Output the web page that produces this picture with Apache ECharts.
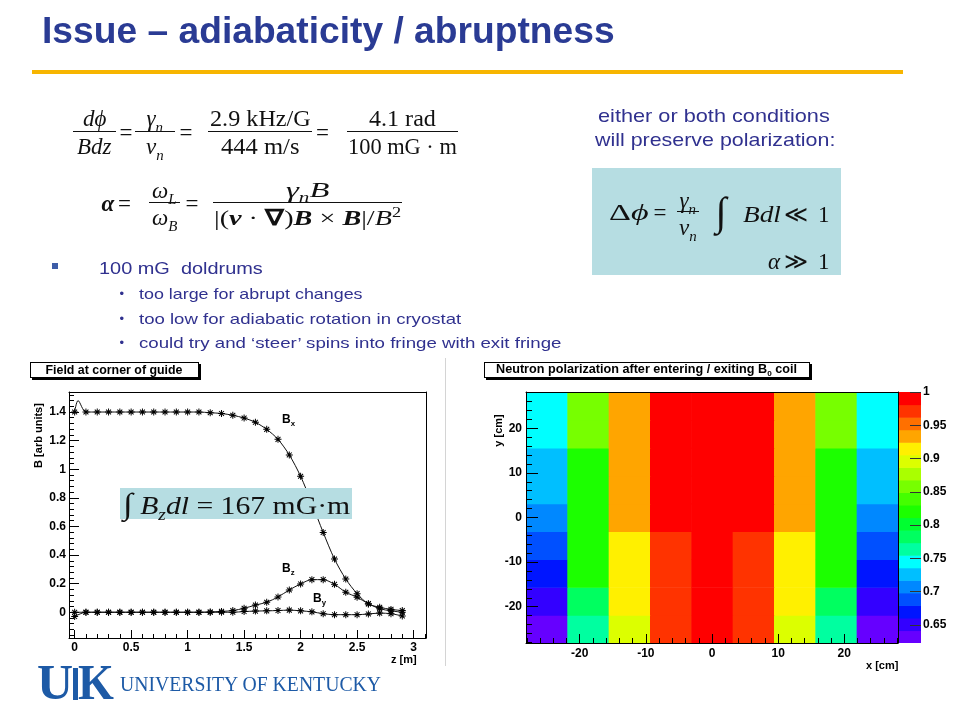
<!DOCTYPE html>
<html><head><meta charset="utf-8">
<script src="https://cdn.jsdelivr.net/npm/echarts@6/dist/echarts.min.js"></script>
<style>
html,body{margin:0;padding:0;background:#fff;}
#chart{position:absolute;left:0;top:0;width:960px;height:720px;}
#ov{position:absolute;left:0;top:0;width:960px;height:720px;pointer-events:none;}
#ov div{position:absolute;white-space:nowrap;line-height:1;}
sub,sup{line-height:0;font-size:65%;}
</style></head><body>
<div id="chart"></div><div id="ov"></div>
<script>
// ---------------- data: field at corner of guide ----------------
const zPos = [0,0.1,0.2,0.3,0.4,0.5,0.6,0.7,0.8,0.9,1.0,1.1,1.2,1.3,1.4,1.5,1.6,1.7,1.8,1.9,2.0,2.1,2.2,2.3,2.4,2.5,2.6,2.7,2.8,2.9];
const bxVals = [1.40,1.40,1.40,1.40,1.40,1.40,1.40,1.40,1.40,1.40,1.40,1.40,1.395,1.39,1.377,1.358,1.328,1.279,1.209,1.10,0.951,0.76,0.558,0.372,0.232,0.13,0.058,0.035,0.02,0.012];
const bxBump = [0.03, 1.48];
const bzVals = [-0.03,0,0,0,0,0,0,0,0,0,0,0,0.002,0.006,0.012,0.028,0.05,0.07,0.107,0.156,0.198,0.228,0.228,0.195,0.14,0.105,0.06,0.025,0.01,0.0];
const byVals = [0,0,0,0,0,0,0,0,0,0,0,0,0,0,0,0.005,0.008,0.01,0.012,0.015,0.01,0.003,-0.01,-0.017,-0.017,-0.017,-0.012,-0.006,-0.01,-0.026];
const zTicks = [0,0.5,1,1.5,2,2.5,3];
const bTicks = [0,0.2,0.4,0.6,0.8,1,1.2,1.4];

// ---------------- data: neutron polarization map ----------------
const xEdges = [-28.125,-21.875,-15.625,-9.375,-3.125,3.125,9.375,15.625,21.875,28.125];
const yEdges = [-28.125,-21.875,-15.625,-9.375,-3.125,3.125,9.375,15.625,21.875,28.125];
// rows from bottom (y<0) to top
const polRows = [
  [0.632,0.765,0.895,0.97,0.99,0.97,0.895,0.765,0.632],
  [0.65, 0.785,0.915,0.97,0.99,0.97,0.915,0.785,0.65 ],
  [0.67, 0.82, 0.915,0.97,0.99,0.97,0.915,0.82, 0.67 ],
  [0.69, 0.82, 0.915,0.97,0.99,0.97,0.915,0.82, 0.69 ],
  [0.707,0.82, 0.935,0.99,0.99,0.99,0.935,0.82, 0.707],
  [0.727,0.82, 0.935,0.99,0.99,0.99,0.935,0.82, 0.727],
  [0.727,0.82, 0.935,0.99,0.99,0.99,0.935,0.82, 0.727],
  [0.745,0.858,0.935,0.99,0.99,0.99,0.935,0.858,0.745],
  [0.745,0.858,0.935,0.99,0.99,0.99,0.935,0.858,0.745]
];
const xcmTicks = [-20,-10,0,10,20];
const ycmTicks = [-20,-10,0,10,20];
const levelEdges = [0.623,0.64185,0.6607,0.67955,0.6984,0.71725,0.7361,0.75495,0.7738,0.79265,0.8115,0.83035,0.8492,0.86805,0.8869,0.90575,0.9246,0.94345,0.9623,0.98115,1.0];
const levelColors = ['#6600ff','#3300ff','#0015ff','#0050ff','#0088ff','#00bfff','#00ffff','#00ffa0','#00ff60','#00ff30','#1cff00','#44ff00','#77ff00','#aaff00','#dcff00','#fff000','#ffa500','#ff7000','#ff3300','#ff0000'];
const cbTicks = [0.65,0.7,0.75,0.8,0.85,0.9,0.95,1];

// minor tick helpers (axis decoration only)
function minors(a, b, step, majors){const r=[];for(let v=a; v<=b+1e-9; v+=step){const q=Math.round(v*1000)/1000; if(!majors.some(m=>Math.abs(m-q)<1e-6)) r.push(q);}return r;}
const zMinor = minors(0.1,3.1,0.1,zTicks);
const bMinor = minors(-0.16,1.52,0.04,bTicks);
const cmMinor = minors(-28,28,2,xcmTicks);

// ---------------- build series data ----------------
const bxData = zPos.map((z,i)=>[z,bxVals[i]]);
bxData.splice(1,0,{value:bxBump, symbol:'none'});
const bzData = zPos.map((z,i)=>[z,bzVals[i]]);
const byData = zPos.map((z,i)=>[z,byVals[i]]);
const heatData = [];
polRows.forEach((row,j)=>row.forEach((v,i)=>heatData.push([xEdges[i],xEdges[i+1],yEdges[j],yEdges[j+1],v])));
const cbData = levelColors.map((c,i)=>[0,1,levelEdges[i],levelEdges[i+1],(levelEdges[i]+levelEdges[i+1])/2]);
const pieces = levelColors.map((c,i)=> i===levelColors.length-1 ? {gte:levelEdges[i], lte:levelEdges[i+1], color:c} : {gte:levelEdges[i], lt:levelEdges[i+1], color:c});

const STAR = 'path://M0,4.3L10,4.3L10,5.7L0,5.7Z M4.3,0L5.7,0L5.7,10L4.3,10Z M1,2L2,1L9,8L8,9Z M8,1L9,2L2,9L1,8Z';
const LBL = {fontFamily:'Liberation Sans, Arial, sans-serif', fontWeight:'bold', fontSize:12, color:'#000'};
const BLK = {color:'#000', width:1};

function rectItem(params, api){
  const p0 = api.coord([api.value(0), api.value(3)]);
  const p1 = api.coord([api.value(1), api.value(2)]);
  return {type:'rect', shape:{x:p0[0], y:p0[1], width:p1[0]-p0[0]+0.6, height:p1[1]-p0[1]+0.6}, style:{fill:api.visual('color')}};
}
function frame(gi, type, pos, min, max){
  return {gridIndex:gi, type:'value', position:pos, min:min, max:max, z:10,
    axisLine:{show:true, onZero:false, lineStyle:BLK}, axisTick:{show:false}, axisLabel:{show:false}, splitLine:{show:false}};
}
function mainAx(gi, pos, min, max, ticks, len, margin){
  return {gridIndex:gi, type:'value', position:pos, min:min, max:max, z:10,
    axisLine:{show:true, onZero:false, lineStyle:BLK},
    axisTick:{show:true, inside:true, length:len, customValues:ticks, lineStyle:BLK},
    axisLabel:Object.assign({customValues:ticks, margin:margin, showMinLabel:true, showMaxLabel:true}, LBL),
    splitLine:{show:false}};
}
function minorAx(gi, pos, min, max, ticks, len){
  return {gridIndex:gi, type:'value', position:pos, min:min, max:max, z:10,
    axisLine:{show:false, onZero:false},
    axisTick:{show:true, inside:true, length:len, customValues:ticks, lineStyle:BLK},
    axisLabel:{show:false}, splitLine:{show:false}};
}
const G0 = {left:69, top:392, width:357, height:246, outerBoundsMode:'none'};
const G2 = {left:526, top:392, width:372, height:251, outerBoundsMode:'none'};
const G4 = {left:899, top:392, width:22, height:251, outerBoundsMode:'none'};

const chart = echarts.init(document.getElementById('chart'), null, {renderer:'canvas'});
chart.setOption({
  animation:false,
  backgroundColor:'#fff',
  grid:[G0, Object.assign({},G0), G2, Object.assign({},G2), G4],
  xAxis:[
    mainAx(0,'bottom',-0.05,3.11,zTicks,8,4),
    frame(0,'value','top',-0.05,3.11),
    minorAx(1,'bottom',-0.05,3.11,zMinor,4),
    mainAx(2,'bottom',-28.125,28.125,xcmTicks,9,5),
    frame(2,'value','top',-28.125,28.125),
    minorAx(3,'bottom',-28.125,28.125,cmMinor,5),
    {gridIndex:4, type:'value', min:0, max:1, show:false}
  ],
  yAxis:[
    mainAx(0,'left',-0.18,1.54,bTicks,10,3),
    frame(0,'value','right',-0.18,1.54),
    minorAx(1,'left',-0.18,1.54,bMinor,5),
    mainAx(2,'left',-28.125,28.125,ycmTicks,12,4),
    frame(2,'value','right',-28.125,28.125),
    minorAx(3,'left',-28.125,28.125,cmMinor,6),
    {gridIndex:4, type:'value', position:'right', min:0.623, max:1.0, z:10,
     axisLine:{show:false, onZero:false},
     axisTick:{show:true, inside:true, length:11, customValues:cbTicks, lineStyle:{color:'#333', width:1}},
     axisLabel:Object.assign({customValues:cbTicks, margin:2}, LBL), splitLine:{show:false}}
  ],
  visualMap:{type:'piecewise', show:false, dimension:4, seriesIndex:[3,4], pieces:pieces},
  series:[
    {type:'line', name:'Bx', xAxisIndex:0, yAxisIndex:0, data:bxData, smooth:0.3, symbol:STAR, symbolSize:7, showAllSymbol:true,
     itemStyle:{color:'#000'}, lineStyle:{color:'#111', width:1}, z:3},
    {type:'line', name:'Bz', xAxisIndex:0, yAxisIndex:0, data:bzData, smooth:0.3, symbol:STAR, symbolSize:7, showAllSymbol:true,
     itemStyle:{color:'#000'}, lineStyle:{color:'#111', width:1}, z:3},
    {type:'line', name:'By', xAxisIndex:0, yAxisIndex:0, data:byData, smooth:0.3, symbol:STAR, symbolSize:7, showAllSymbol:true,
     itemStyle:{color:'#000'}, lineStyle:{color:'#111', width:1}, z:3},
    {type:'custom', name:'polarization', xAxisIndex:3, yAxisIndex:3, data:heatData, encode:{x:[0,1], y:[2,3]}, renderItem:rectItem, clip:true, z:2},
    {type:'custom', name:'palette', xAxisIndex:6, yAxisIndex:6, data:cbData, encode:{x:[0,1], y:[2,3]}, renderItem:rectItem, clip:true, z:2}
  ]
});

// ---------------- overlay text ----------------
const ov = document.getElementById('ov');
function put(html, x, y, css, anchor, tw){
  const el = document.createElement('div');
  el.innerHTML = html; el.style.cssText = css || '';
  ov.appendChild(el);
  const w = el.offsetWidth, h = el.offsetHeight;
  const s = tw ? tw / w : 1, W = w * s;
  const left = anchor==='c' ? x - W/2 : anchor==='r' ? x - W : x;
  el.style.left = left + 'px'; el.style.top = (y - h/2) + 'px';
  if (s !== 1){ el.style.transformOrigin = '0 50%'; el.style.transform = 'scaleX(' + s.toFixed(4) + ')'; }
  return el;
}
function box(x, y, w, h, css){
  const el = document.createElement('div');
  el.style.cssText = css || ''; el.style.left = x+'px'; el.style.top = y+'px'; el.style.width = w+'px'; el.style.height = h+'px';
  ov.appendChild(el); return el;
}
function frac(num, den, cx, yb, w, css, dn, dd, twn, twd){
  box(cx - w/2, yb - 0.5, w, 1, 'background:#111;');
  put(num, cx, yb - dn, css, 'c', twn);
  put(den, cx, yb + dd, css, 'c', twd);
}
const SANS = "font-family:'Liberation Sans',Arial,sans-serif;";
const M = "font-family:'Liberation Serif','Times New Roman',serif;font-size:23px;color:#111;";
const M2 = "font-family:'Liberation Serif','Times New Roman',serif;font-size:22px;color:#111;";
const BLUE = '#30318f';

// title
put('Issue – adiabaticity / abruptness', 42, 30, SANS + 'font-weight:bold;font-size:37px;color:#2a3b94;', 'l', 573);
box(32, 70, 871, 4, 'background:#f7b500;');

// equation 1
frac('<i>dϕ</i>', '<i>Bdz</i>', 94.5, 131.7, 43, M, 13.5, 15);
put('=', 126, 132.5, M, 'c');
frac('<i>γ<sub>n</sub></i>', '<i>v<sub>n</sub></i>', 155, 131.7, 40, M, 13.5, 15);
put('=', 186, 132.5, M, 'c');
frac('2.9 kHz/G', '444 m/s', 260, 131.7, 104, M, 13.5, 15, 101, 78);
put('=', 322.5, 132.5, M, 'c');
frac('4.1 rad', '100 mG · m', 402.5, 131.7, 111, M, 13.5, 15, 67, 109);

// equation 2
put('<b><i>α</i></b>', 108, 203.5, M, 'c');
put('=', 124.5, 203.5, M, 'c');
frac('<i>ω<sub>L</sub></i>', '<i>ω<sub>B</sub></i>', 164.5, 202.7, 31, M, 12.5, 15);
put('=', 192, 203.5, M, 'c');
frac('<i>γ<sub>n</sub>B</i>', '|(<b><i>v</i></b> · <b>∇</b>)<b><i>B</i></b> × <b><i>B</i></b>|/<i>B</i><sup>2</sup>', 307.5, 202.7, 189, M2, 12.5, 15, 43, 187);

// right text + box
put('either or both conditions', 714, 115.5, SANS + 'font-size:19px;color:' + BLUE + ';', 'c', 232);
put('will preserve polarization:', 715, 139, SANS + 'font-size:19px;color:' + BLUE + ';', 'c', 240);
box(592, 168, 249, 107, 'background:#b6dde2;');
put('Δ<i>ϕ</i>', 609, 212, M, 'l', 40);
put('=', 660, 212, M, 'c');
frac('<i>γ<sub>n</sub></i>', '<i>v<sub>n</sub></i>', 688, 211, 22, M, 11, 16);
put('∫', 721, 212, "font-family:'Liberation Serif',serif;font-size:40px;color:#111;", 'c');
put('<i>Bdl</i>', 743, 214, M, 'l', 38);
put('≪', 796, 214, M, 'c');
put('1', 824, 214, M, 'c');
put('<i>α</i>', 774, 261, M, 'c');
put('≫', 796, 261, M, 'c');
put('1', 824, 261, M, 'c');

// bullets
box(52, 263, 6, 6, 'background:#3d5da8;');
put('100 mG&nbsp; doldrums', 99, 268, SANS + 'font-size:17px;color:' + BLUE + ';', 'l', 164);
const subs = [['too large for abrupt changes', 293, 224], ['too low for adiabatic rotation in cryostat', 318, 322], ['could try and ‘steer’ spins into fringe with exit fringe', 342, 422]];
subs.forEach(s => {
  put('•', 122, s[1], SANS + 'font-size:13px;color:' + BLUE + ';', 'c');
  put(s[0], 139, s[1], SANS + 'font-size:15px;color:' + BLUE + ';', 'l', s[2]);
});

// chart decorations
box(445, 358, 1, 308, 'background:#d4d4d4;');
box(30, 362, 167, 14, 'border:1px solid #000;box-shadow:2px 2px 0 #000;background:#fff;');
put('Field at corner of guide', 114, 369.5, SANS + 'font-weight:bold;font-size:12.4px;color:#000;', 'c', 137);
box(484, 362, 324, 14, 'border:1px solid #000;box-shadow:2px 2px 0 #000;background:#fff;');
put('Neutron polarization after entering / exiting B<sub>0</sub> coil', 646.5, 369, SANS + 'font-weight:bold;font-size:12.4px;color:#000;', 'c', 301);

const AX = SANS + 'font-weight:bold;font-size:11px;color:#000;';
const t1 = put('B [arb units]', 38, 435.5, AX, 'c'); t1.style.transform = 'rotate(-90deg)';
put('z [m]', 417, 659, AX, 'r');
const t2 = put('y [cm]', 497.5, 430.5, AX, 'c'); t2.style.transform = 'rotate(-90deg)';
put('x [cm]', 898, 665, AX, 'r');

const BL = SANS + 'font-weight:bold;font-size:12px;color:#000;';
put('B<sub>x</sub>', 282, 419, BL, 'l');
put('B<sub>z</sub>', 282, 568, BL, 'l');
put('B<sub>y</sub>', 313, 598, BL, 'l');

box(120, 488, 232, 31, 'background:#b6dde2;');
put('<span style="font-size:30px">∫</span> <i>B<sub>z</sub>dl</i> = 167 mG·m', 123, 503.5, "font-family:'Liberation Serif',serif;font-size:25px;color:#111;", 'l', 227);

// logo
const LOGO = "font-family:'Liberation Serif',serif;font-weight:bold;color:#1d5aa6;";
put('U', 37, 682, LOGO + 'font-size:50px;', 'l', 36);
box(73, 668, 5, 32, 'background:#1d5aa6;');
put('K', 78, 682, LOGO + 'font-size:50px;', 'l', 36);
put('UNIVERSITY OF KENTUCKY', 120, 684, "font-family:'Liberation Serif',serif;font-size:21px;color:#1d5aa6;", 'l', 261);
</script>
</body></html>
